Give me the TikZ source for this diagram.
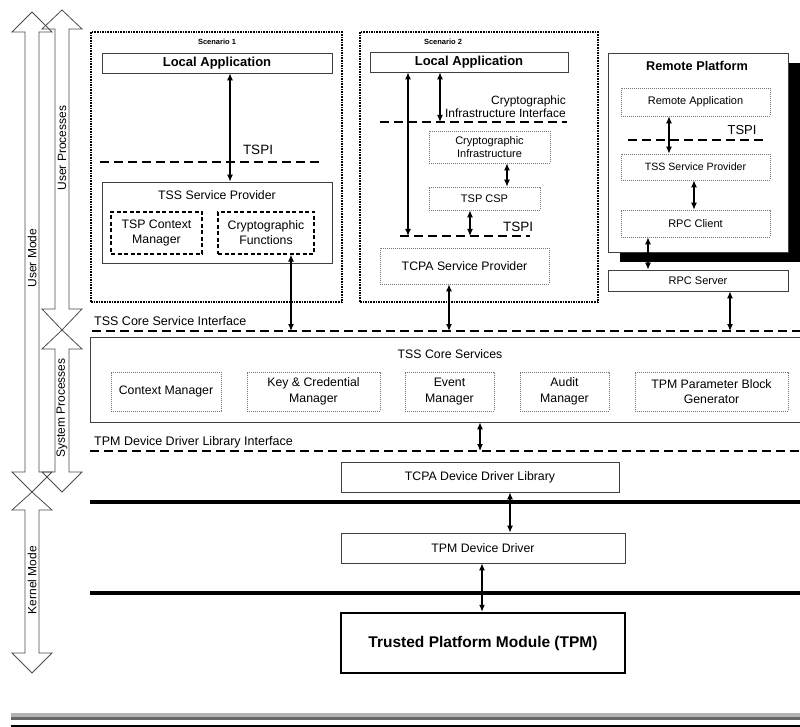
\documentclass[tikz,border=0pt]{standalone}
\usepackage{fontspec}
\setmainfont{Liberation Sans}
\usetikzlibrary{arrows.meta}
\newcommand\fsz[2]{\fontsize{#1}{#2}\selectfont}
\tikzset{
 solidbox/.style={draw=black!75, line width=0.8pt, inner sep=0pt, align=center, font=\fsz{12.3}{14.5}},
 dotbox/.style={draw=black!55, line width=0.7pt, dash pattern=on 0.8pt off 1.2pt, inner sep=0pt, align=center, font=\fsz{11}{13}},
 dashbox/.style={draw=black, line width=1.2pt, dash pattern=on 4pt off 2.5pt, inner sep=0pt, align=center, font=\fsz{12.3}{15}},
 scenbox/.style={draw=black, line width=1.4pt, dash pattern=on 1.6pt off 1pt, inner sep=0pt},
 ifline/.style={line width=1.8pt, dash pattern=on 9pt off 5pt},
 thickline/.style={line width=3.5pt},
 dbl/.style={{Latex[length=7pt,width=6pt]}-{Latex[length=7pt,width=6pt]}, line width=1.1pt},
 txt/.style={inner sep=0pt, font=\fsz{12.3}{14.5}},
 bigarrow/.style={draw=black!70, line width=0.8pt},
 sidelabel/.style={inner sep=0pt, rotate=90, font=\fsz{12}{14}},
}
\begin{document}
\begin{tikzpicture}[x=1pt,y=-1pt]
\useasboundingbox (0,0) rectangle (800,727);
\clip (0,0) rectangle (800,727);
\fill[white] (0,0) rectangle (800,727);

% ---- side arrows ----
\draw[bigarrow] (25,32)--(12,32)--(32,12)--(52,32)--(39,32)--(39,472)--(52,472)--(32,492)--(12,472)--(25,472)--cycle;
\draw[bigarrow] (25,510)--(12,510)--(32,492)--(52,510)--(39,510)--(39,653)--(52,653)--(32,673)--(12,653)--(25,653)--cycle;
\draw[bigarrow] (55,29)--(42,29)--(62,10)--(82,29)--(69,29)--(69,309)--(82,309)--(62,330)--(42,309)--(55,309)--cycle;
\draw[bigarrow] (55,349)--(42,349)--(62,330)--(82,349)--(69,349)--(69,472)--(82,472)--(62,492)--(42,472)--(55,472)--cycle;
\node[sidelabel] (lum) at (32,258) {User Mode};
\node[sidelabel] (lup) at (62,148) {User Processes};
\node[sidelabel] (lsp) at (62,408) {System Processes};
\node[sidelabel] (lkm) at (32,580) {Kernel Mode};

% ---- Scenario 1 ----
\node[scenbox, minimum width=251, minimum height=270] (s1) at (216.5,167) {};
\node[inner sep=0pt, font=\fsz{7.5}{9}\bfseries] (s1l) at (217,42) {Scenario 1};
\node[solidbox, minimum width=230, minimum height=20, font=\fsz{13}{15}\bfseries] (la1) at (217,63) {Local Application};
\node[solidbox, minimum width=230, minimum height=81] (tssp1) at (217,222.5) {};
\node[txt] (tssp1t) at (217,195) {TSS Service Provider};
\node[dashbox, minimum width=91, minimum height=42] (tcm) at (156.5,233) {TSP Context\\Manager};
\node[dashbox, minimum width=96, minimum height=42] (cf) at (266,233) {Cryptographic\\Functions};
\coordinate (t1L) at (100,162); \coordinate (t1R) at (322,162);
\draw[ifline] (t1L) -- (t1R);
\node[txt, font=\fsz{13.5}{15}] (t1lbl) at (258,150) {TSPI};
\draw[dbl] (la1.south -| 230,0) -- (tssp1.north -| 230,0);

% ---- Scenario 2 ----
\node[scenbox, minimum width=238, minimum height=270] (s2) at (479,167) {};
\node[inner sep=0pt, font=\fsz{7.5}{9}\bfseries] (s2l) at (443,42) {Scenario 2};
\node[solidbox, minimum width=198, minimum height=20, font=\fsz{13}{15}\bfseries] (la2) at (469,62) {Local Application};
\coordinate (ciiL) at (380,122); \coordinate (ciiR) at (567,122);
\draw[ifline] (ciiL) -- (ciiR);
\node[inner sep=0pt, anchor=east, align=right, font=\fsz{12}{13.5}] (ciil) at (566,106.5) {Cryptographic\\Infrastructure Interface};
\node[dotbox, minimum width=121, minimum height=32] (ci) at (489.5,147) {Cryptographic\\Infrastructure};
\node[dotbox, minimum width=111, minimum height=23] (csp) at (484.5,198.5) {TSP CSP};
\coordinate (t2L) at (400,236); \coordinate (t2R) at (530,236);
\draw[ifline] (t2L) -- (t2R);
\node[txt, font=\fsz{13.5}{15}] (t2lbl) at (518,227) {TSPI};
\node[dotbox, minimum width=169, minimum height=36, font=\fsz{12.3}{14.5}] (tcpasp) at (464.5,266) {TCPA Service Provider};
\draw[dbl] (la2.south -| 408,0) -- (t2L -| 408,0);
\draw[dbl] (la2.south -| 440,0) -- (ciiL -| 440,0);
\draw[dbl] (ci.south -| 507,0) -- (csp.north -| 507,0);
\draw[dbl] (csp.south -| 470,0) -- (t2L -| 470,0);

% ---- Remote Platform ----
\fill[black] (620,63) rectangle (805,262);
\node[solidbox, fill=white, minimum width=180, minimum height=199] (rp) at (698,152.5) {};
\node[inner sep=0pt, font=\fsz{12.7}{15}\bfseries] (rpt) at (697,66) {Remote Platform};
\node[dotbox, minimum width=149, minimum height=28] (ra) at (695.5,102) {Remote Application};
\coordinate (t3L) at (628,140); \coordinate (t3R) at (763,140);
\draw[ifline] (t3L) -- (t3R);
\node[txt, font=\fsz{13}{15}] (t3lbl) at (742,130) {TSPI};
\node[dotbox, minimum width=149, minimum height=26, font=\fsz{10.6}{13}] (tssp3) at (695.5,167) {TSS Service Provider};
\node[dotbox, minimum width=149, minimum height=27] (rpcc) at (695.5,223.5) {RPC Client};
\node[solidbox, minimum width=180, minimum height=21, font=\fsz{11}{13}] (rpcs) at (698,280.5) {RPC Server};
\draw[dbl] (ra.south -| 669,0) -- (tssp3.north -| 669,0);
\draw[dbl] (tssp3.south -| 694,0) -- (rpcc.north -| 694,0);
\draw[dbl] (rpcc.south -| 648,0) -- (rpcs.north -| 648,0);

% ---- TSS Core Service Interface ----
\coordinate (csiL) at (92,331); \coordinate (csiR) at (805,331);
\draw[ifline] (csiL) -- (csiR);
\node[txt, anchor=west, font=\fsz{12.5}{14}] (csil) at (94,321) {TSS Core Service Interface};
\draw[dbl] (cf.south -| 291,0) -- (csiL -| 291,0);
\draw[dbl] (tcpasp.south -| 449,0) -- (csiL -| 449,0);
\draw[dbl] (rpcs.south -| 730,0) -- (csiL -| 730,0);

% ---- TSS Core Services ----
\node[solidbox, minimum width=720, minimum height=85] (tcs) at (450,379.5) {};
\node[txt] (tcst) at (450,354) {TSS Core Services};
\node[dotbox, minimum width=110, minimum height=39, font=\fsz{12.3}{15.5}] (cm) at (166,391.5) {Context Manager};
\node[dotbox, minimum width=133, minimum height=39, font=\fsz{12.3}{15.5}] (kcm) at (313.5,391.5) {Key \& Credential\\Manager};
\node[dotbox, minimum width=89, minimum height=39, font=\fsz{12.3}{15.5}] (em) at (449.5,391.5) {Event\\Manager};
\node[dotbox, minimum width=89, minimum height=39, font=\fsz{12.3}{15.5}] (am) at (564.5,391.5) {Audit\\Manager};
\node[dotbox, minimum width=153, minimum height=39, font=\fsz{12.3}{15.5}] (tpb) at (711.5,391.5) {TPM Parameter Block\\Generator};

% ---- TPM Device Driver Library Interface ----
\coordinate (ddL) at (90,451); \coordinate (ddR) at (805,451);
\draw[ifline] (ddL) -- (ddR);
\node[txt, anchor=west, font=\fsz{12.5}{14}] (ddlbl) at (94,442) {TPM Device Driver Library Interface};
\draw[dbl] (tcs.south -| 480,0) -- (ddL -| 480,0);

\node[solidbox, minimum width=278, minimum height=30] (tddl) at (480,477) {TCPA Device Driver Library};
\coordinate (k1L) at (90,502); \coordinate (k1R) at (805,502);
\draw[thickline] (k1L) -- (k1R);
\node[solidbox, minimum width=284, minimum height=30] (tdd) at (483,548) {TPM Device Driver};
\coordinate (k2L) at (90,593); \coordinate (k2R) at (805,593);
\draw[thickline] (k2L) -- (k2R);
\node[draw=black, line width=2.5pt, inner sep=0pt, minimum width=284, minimum height=60, font=\fsz{15.5}{18}\bfseries] (tpm) at (483,643) {Trusted Platform Module (TPM)};
\draw[dbl] (tddl.south -| 510,0) -- (tdd.north -| 510,0);
\draw[dbl] (tdd.south -| 482,0) -- (tpm.north -| 482,0);

% ---- bottom band ----
\fill[black!30] (11,713) rectangle (805,716.5);
\fill[black!60] (11,716.5) rectangle (805,720);
\fill[black] (11,724.5) rectangle (805,727);
\end{tikzpicture}
\end{document}
